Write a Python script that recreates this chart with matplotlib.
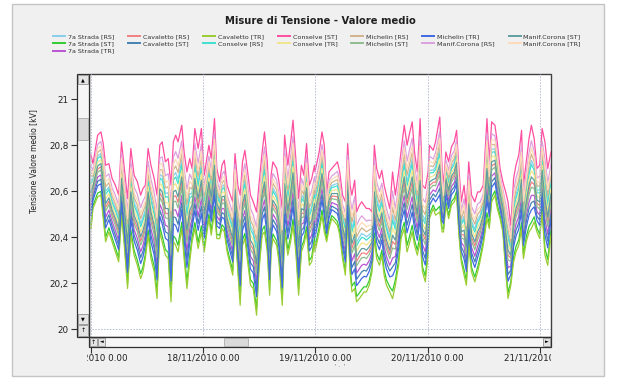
"""Misure di Tensione - Valore medio (recreated chart)."""

from datetime import datetime, timedelta

import matplotlib

matplotlib.use("Agg")
import matplotlib.pyplot as plt
from matplotlib.patches import Rectangle
from matplotlib.transforms import Bbox, TransformedBbox

# --- data ---------------------------------------------------------------
# hours after 17/11/2010 00:00, upper edge of the bundle (Conselve [ST])
# and lower edge of the bundle (Cavaletto [TR]), in kV
hours = [
    0.0, 0.4, 1.4, 2.1, 2.6, 3.1, 3.8, 4.5, 5.2, 5.9, 6.5, 7.1, 7.8, 8.5, 9.2, 9.9,
    10.6, 11.1, 11.6, 12.2, 12.8, 13.5, 14.1, 14.7, 15.2, 15.9, 16.5, 17.1, 17.6,
    18.1, 18.6, 19.4, 19.9, 20.5, 21.1, 21.6, 22.2, 22.9, 23.6,
    24.2, 25.2, 25.7, 26.4, 26.9, 27.5, 28.0, 28.5, 29.1, 29.8, 30.3, 30.8, 31.4,
    31.9, 32.4, 32.9, 33.5, 34.1, 34.7, 35.4, 35.9, 36.6, 37.1, 37.7, 38.2, 38.5,
    38.9, 39.7, 40.2, 40.9, 41.4, 42.1, 42.7, 43.2, 43.8, 44.4, 45.0, 45.5, 46.1,
    46.7, 47.2, 47.8,
    47.9, 48.8, 49.4, 49.9, 50.4, 50.9, 51.5, 52.1, 52.7, 53.2, 53.8, 54.4, 54.9,
    55.4, 55.8, 56.4, 56.8, 57.4, 57.9, 58.4, 58.9, 59.5, 60.1, 60.6, 61.1, 61.7,
    62.2, 62.7, 63.2, 63.9, 64.5, 65.1, 65.8, 66.3, 67.0, 67.6, 68.2, 68.7, 69.2,
    69.8, 70.4, 70.9, 71.5, 72.1,
    72.4, 73.2, 73.7, 74.6, 75.1, 75.4, 75.9, 76.5, 77.1, 77.7, 78.2, 78.7, 79.2,
    79.8, 80.3, 80.8, 81.4, 82.1, 82.7, 83.2, 83.9, 84.7, 85.2, 85.7, 86.4, 86.9,
    87.5, 88.1, 88.7, 89.2, 89.8, 90.4, 90.9, 91.5, 92.1, 92.5, 93.1, 93.7, 94.2,
    94.8, 95.4, 96.0, 96.5, 97.1, 97.7, 98.4,
]
upper_kv = [
    20.757, 20.720, 20.844, 20.858, 20.807, 20.713, 20.720, 20.655, 20.626, 20.583,
    20.815, 20.699, 20.568, 20.786, 20.670, 20.641, 20.583, 20.612, 20.626, 20.786,
    20.713, 20.655, 20.583, 20.800, 20.815, 20.728, 20.742, 20.626, 20.815, 20.844,
    20.815, 20.887, 20.771, 20.684, 20.742, 20.699, 20.873, 20.786, 20.873,
    20.670, 20.800, 20.742, 20.916, 20.699, 20.641, 20.713, 20.735, 20.626, 20.583,
    20.554, 20.764, 20.626, 20.583, 20.728, 20.778, 20.684, 20.583, 20.554, 20.510,
    20.626, 20.771, 20.858, 20.728, 20.525, 20.670, 20.728, 20.699, 20.641, 20.525,
    20.844, 20.713, 20.815, 20.909, 20.742, 20.568, 20.713, 20.670, 20.807, 20.626,
    20.655, 20.713,
    20.684, 20.771, 20.858, 20.800, 20.583, 20.684, 20.699, 20.713, 20.728, 20.684,
    20.583, 20.554, 20.807, 20.626, 20.583, 20.648, 20.510, 20.539, 20.554, 20.539,
    20.525, 20.525, 20.510, 20.800, 20.699, 20.655, 20.691, 20.626, 20.583, 20.525,
    20.684, 20.583, 20.684, 20.771, 20.887, 20.800, 20.858, 20.902, 20.771, 20.684,
    20.916, 20.626, 20.612, 20.684,
    20.800, 20.778, 20.815, 20.923, 20.699, 20.626, 20.771, 20.728, 20.793, 20.815,
    20.865, 20.699, 20.554, 20.626, 20.525, 20.728, 20.583, 20.554, 20.597, 20.597,
    20.626, 20.916, 20.728, 20.902, 20.887, 20.815, 20.699, 20.641, 20.597, 20.554,
    20.452, 20.655, 20.713, 20.757, 20.865, 20.626, 20.728, 20.829, 20.887, 20.829,
    20.699, 20.713, 20.873, 20.815, 20.699, 20.771,
]
lower_kv = [
    20.438, 20.525, 20.576, 20.583, 20.481, 20.380, 20.423, 20.380, 20.336, 20.293,
    20.496, 20.365, 20.177, 20.409, 20.322, 20.278, 20.220, 20.249, 20.307, 20.409,
    20.307, 20.249, 20.133, 20.423, 20.380, 20.322, 20.307, 20.119, 20.380, 20.365,
    20.336, 20.438, 20.307, 20.177, 20.293, 20.380, 20.438, 20.351, 20.423,
    20.336, 20.481, 20.409, 20.510, 20.394, 20.394, 20.438, 20.423, 20.336, 20.278,
    20.235, 20.452, 20.249, 20.104, 20.365, 20.394, 20.293, 20.191, 20.177, 20.061,
    20.249, 20.409, 20.423, 20.336, 20.148, 20.336, 20.394, 20.365, 20.293, 20.104,
    20.423, 20.322, 20.380, 20.452, 20.336, 20.148, 20.336, 20.365, 20.423, 20.278,
    20.293, 20.380,
    20.336, 20.423, 20.496, 20.423, 20.380, 20.438, 20.481, 20.467, 20.452, 20.409,
    20.307, 20.235, 20.481, 20.249, 20.162, 20.177, 20.119, 20.133, 20.148, 20.162,
    20.162, 20.191, 20.249, 20.394, 20.307, 20.278, 20.322, 20.235, 20.191, 20.162,
    20.133, 20.191, 20.278, 20.394, 20.438, 20.336, 20.380, 20.423, 20.365, 20.322,
    20.380, 20.249, 20.206, 20.322,
    20.481, 20.525, 20.496, 20.510, 20.423, 20.423, 20.539, 20.481, 20.539, 20.554,
    20.583, 20.409, 20.293, 20.235, 20.191, 20.365, 20.249, 20.206, 20.249, 20.293,
    20.365, 20.481, 20.438, 20.554, 20.583, 20.525, 20.481, 20.423, 20.249, 20.133,
    20.191, 20.293, 20.336, 20.365, 20.438, 20.307, 20.380, 20.423, 20.438, 20.467,
    20.423, 20.394, 20.510, 20.322, 20.278, 20.409,
]

series_names = [
    "7a Strada [RS]", "7a Strada [ST]", "7a Strada [TR]",
    "Cavaletto [RS]", "Cavaletto [ST]", "Cavaletto [TR]",
    "Conselve [RS]", "Conselve [ST]", "Conselve [TR]",
    "Michelin [RS]", "Michelin [ST]", "Michelin [TR]",
    "Manif.Corona [RS]", "Manif.Corona [ST]", "Manif.Corona [TR]",
]
series_colors = [
    "#87CEEB", "#32CD32", "#BA55D3",
    "#F08080", "#4682B4", "#9ACD32",
    "#40E0D0", "#FF4FA0", "#F0E68C",
    "#D2B48C", "#8FBC8F", "#4169E1",
    "#DDA0DD", "#5F9EA0", "#FFDAB9",
]
# where each series sits inside the bundle (0 = lower edge, 1 = upper edge)
band_pos = [
    0.66, 0.06, 0.32,
    0.45, 0.25, 0.0,
    0.62, 1.0, 0.56,
    0.72, 0.40, 0.18,
    0.85, 0.50, 0.78,
]

y_ticks = [20.0, 20.2, 20.4, 20.6, 20.8, 21.0]
y_tick_labels = ["20", "20,2", "20,4", "20,6", "20,8", "21"]
day_ticks = [datetime(2010, 11, d) for d in range(17, 22)]
day_labels = [f"{d.day}/{d.month}/{d.year} 0.00" for d in day_ticks]

# --- layout helpers (pixel boxes, y measured from the top) ---------------
W, H = 626, 380


def px_box(x0, y0, x1, y1):
    return [x0 / W, 1 - y1 / H, (x1 - x0) / W, (y1 - y0) / H]


def px_rect(fig, x0, y0, x1, y1, **kw):
    fig.add_artist(Rectangle((x0 / W, 1 - y1 / H), (x1 - x0) / W, (y1 - y0) / H,
                             transform=fig.transFigure, **kw))


fig = plt.figure(figsize=(W / 100, H / 100), dpi=100)
fig.patch.set_facecolor("white")

# grey panel behind the chart
px_rect(fig, 12, 4, 604, 376, facecolor="#F0F0F0", edgecolor="#C4C4C4", lw=1,
        zorder=-10)

fig.text(320 / W, 1 - 21 / H, "Misure di Tensione - Valore medio",
         ha="center", va="center", fontsize=7.2, fontweight="bold", color="#202020")

ax = fig.add_axes(px_box(89, 74, 551, 337))
ax.set_facecolor("white")

start = datetime(2010, 11, 17)
times = [start + timedelta(hours=h) for h in hours]
for name, color, pos in zip(series_names, series_colors, band_pos):
    vals = [lo + pos * (hi - lo) for lo, hi in zip(lower_kv, upper_kv)]
    ax.plot(times, vals, color=color, lw=0.9, label=name)

ax.set_xlim(start - timedelta(hours=0.45), start + timedelta(hours=98.4))
ax.set_ylim(19.966, 21.11)

ax.set_yticks(y_ticks)
ax.set_yticklabels(y_tick_labels)
ax.set_xticks(day_ticks)
ax.set_xticklabels(day_labels)

for d in day_ticks:
    ax.axvline(d, color="#B4BCD4", lw=0.7, ls=(0, (1.5, 1.5)))
ax.axhline(20.0, color="#B4BCD4", lw=0.7, ls=(0, (1.5, 1.5)))

# ticks sit outside the scroll bars
ax.spines["left"].set_position(("outward", 12 * 0.72))
ax.spines["bottom"].set_position(("outward", 10 * 0.72))
for s in ax.spines.values():
    s.set_visible(False)
ax.tick_params(axis="both", direction="out", length=4.5, width=0.8, color="#303030",
               labelsize=6.3, labelcolor="#202020", pad=1.5)
ax.tick_params(axis="x", pad=0.5)
ax.add_patch(Rectangle((0, 0), 1, 1, transform=ax.transAxes, fill=False,
                       edgecolor="#404040", lw=1.0, clip_on=False))

ax.set_ylabel("Tensione Valore medio [kV]", fontsize=5.5, color="#202020")
ax.yaxis.set_label_coords(-0.11, 0.67)

# vertical scroll bar
px_rect(fig, 77, 74, 89, 337, facecolor="#F6F6F6", edgecolor="#303030", lw=0.9)
px_rect(fig, 78, 75, 88, 84, facecolor="#E4E4E4", edgecolor="#808080", lw=0.5)
fig.text(83 / W, 1 - 79.5 / H, "▲", ha="center", va="center", fontsize=3.5)
px_rect(fig, 78, 118, 88, 140, facecolor="#DADADA", edgecolor="#A0A0A0", lw=0.5)
px_rect(fig, 78, 314, 88, 324, facecolor="#E4E4E4", edgecolor="#808080", lw=0.5)
fig.text(83 / W, 1 - 319 / H, "▼", ha="center", va="center", fontsize=3.5)
px_rect(fig, 78, 325, 88, 336, facecolor="#E4E4E4", edgecolor="#808080", lw=0.5)
fig.text(83 / W, 1 - 330.5 / H, "↑", ha="center", va="center", fontsize=4.5)

# horizontal scroll bar
px_rect(fig, 89, 337, 551, 347, facecolor="#F6F6F6", edgecolor="#303030", lw=0.9)
px_rect(fig, 90, 338, 97, 346, facecolor="#E4E4E4", edgecolor="#808080", lw=0.5)
fig.text(93.5 / W, 1 - 342 / H, "↑", ha="center", va="center", fontsize=4.5)
px_rect(fig, 98, 338, 105, 346, facecolor="#E4E4E4", edgecolor="#808080", lw=0.5)
fig.text(101.5 / W, 1 - 342 / H, "◄", ha="center", va="center", fontsize=3.5)
px_rect(fig, 224, 338, 248, 346, facecolor="#DADADA", edgecolor="#A0A0A0", lw=0.5)
px_rect(fig, 543, 338, 550, 346, facecolor="#E4E4E4", edgecolor="#808080", lw=0.5)
fig.text(546.5 / W, 1 - 342 / H, "►", ha="center", va="center", fontsize=3.5)

fig.text(340 / W, 1 - 367 / H, "' ·  '", ha="center", va="center", fontsize=4,
         color="#606060")

handles, labels = ax.get_legend_handles_labels()
leg = fig.legend(handles, labels, ncol=7, loc="upper center",
                 bbox_to_anchor=(317 / W, 1 - 31 / H), frameon=False, fontsize=4.6,
                 handlelength=1.9, handletextpad=0.4, columnspacing=2.2,
                 labelspacing=0.25, borderpad=0)
for t in leg.get_texts():
    t.set_color("#303030")
for ln in leg.get_lines():
    ln.set_linewidth(1.4)

# x tick labels are cut at the plot edges like in the original control
fig.canvas.draw()
clip = TransformedBbox(Bbox([[87 / W, 0], [551 / W, 1]]), fig.transFigure)
for lab in ax.get_xticklabels():
    lab.set_clip_on(True)
    lab.set_clip_box(clip)

fig.savefig("out.png", dpi=100, facecolor="white")
